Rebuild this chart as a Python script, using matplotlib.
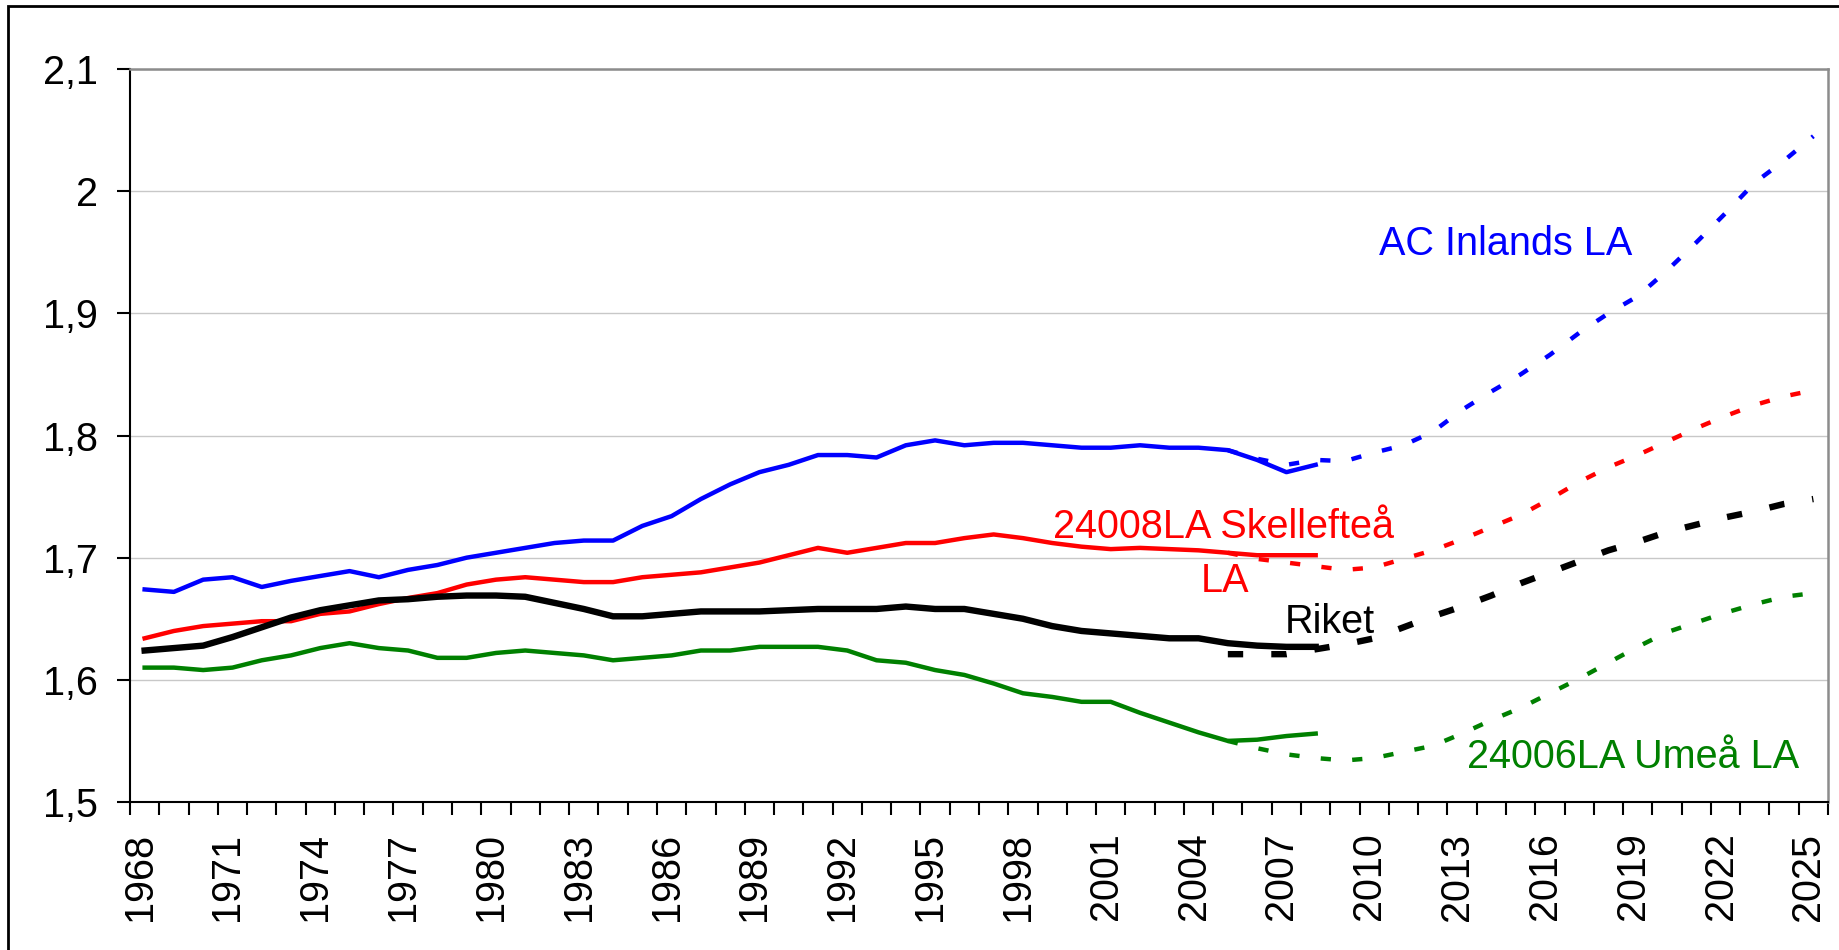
import numpy as np
import matplotlib
matplotlib.use('Agg')
import matplotlib.pyplot as plt
from matplotlib.patches import Rectangle
from matplotlib.ticker import FixedLocator, FuncFormatter
import matplotlib.transforms as mtransforms

plt.rcParams['font.family'] = ['Liberation Sans', 'DejaVu Sans']

# historical values 1968-2008
hist_years = np.arange(1968, 2009)
inlands = [1.674, 1.672, 1.682, 1.684, 1.676, 1.681, 1.685, 1.689, 1.684, 1.690,
           1.694, 1.700, 1.704, 1.708, 1.712, 1.714, 1.714, 1.726, 1.734, 1.748,
           1.760, 1.770, 1.776, 1.784, 1.784, 1.782, 1.792, 1.796, 1.792, 1.794,
           1.794, 1.792, 1.790, 1.790, 1.792, 1.790, 1.790, 1.788, 1.780, 1.770, 1.776]
skelleftea = [1.634, 1.640, 1.644, 1.646, 1.648, 1.648, 1.654, 1.656, 1.662, 1.667,
              1.671, 1.678, 1.682, 1.684, 1.682, 1.680, 1.680, 1.684, 1.686, 1.688,
              1.692, 1.696, 1.702, 1.708, 1.704, 1.708, 1.712, 1.712, 1.716, 1.719,
              1.716, 1.712, 1.709, 1.707, 1.708, 1.707, 1.706, 1.704, 1.702, 1.702, 1.702]
riket = [1.624, 1.626, 1.628, 1.635, 1.643, 1.651, 1.657, 1.661, 1.665, 1.666,
         1.668, 1.669, 1.669, 1.668, 1.663, 1.658, 1.652, 1.652, 1.654, 1.656,
         1.656, 1.656, 1.657, 1.658, 1.658, 1.658, 1.660, 1.658, 1.658, 1.654,
         1.650, 1.644, 1.640, 1.638, 1.636, 1.634, 1.634, 1.630, 1.628, 1.627, 1.627]
umea = [1.610, 1.610, 1.608, 1.610, 1.616, 1.620, 1.626, 1.630, 1.626, 1.624,
        1.618, 1.618, 1.622, 1.624, 1.622, 1.620, 1.616, 1.618, 1.620, 1.624,
        1.624, 1.627, 1.627, 1.627, 1.624, 1.616, 1.614, 1.608, 1.604, 1.597,
        1.589, 1.586, 1.582, 1.582, 1.573, 1.565, 1.557, 1.550, 1.551, 1.554, 1.556]

# projections 2005-2025
proj_years = np.arange(2005, 2026)
inlands_p = [1.788, 1.781, 1.776, 1.780, 1.779, 1.786, 1.792, 1.803, 1.821, 1.836, 1.850,
             1.866, 1.884, 1.900, 1.914, 1.935, 1.958, 1.982, 2.007, 2.025, 2.045]
skelleftea_p = [1.704, 1.699, 1.696, 1.693, 1.690, 1.692, 1.699, 1.706, 1.715, 1.725, 1.735,
                1.748, 1.762, 1.774, 1.784, 1.795, 1.806, 1.816, 1.825, 1.832, 1.837]
riket_p = [1.621, 1.621, 1.621, 1.625, 1.629, 1.634, 1.643, 1.652, 1.660, 1.669, 1.679,
           1.688, 1.697, 1.706, 1.713, 1.721, 1.727, 1.733, 1.738, 1.744, 1.748]
umea_p = [1.550, 1.544, 1.539, 1.536, 1.534, 1.536, 1.541, 1.546, 1.556, 1.567, 1.577,
          1.589, 1.601, 1.614, 1.627, 1.639, 1.647, 1.655, 1.662, 1.668, 1.671]

label_years = list(range(1968, 2026, 3))
y_ticks = [1.5, 1.6, 1.7, 1.8, 1.9, 2.0, 2.1]

BLUE, RED, GREEN = '#0000FF', '#FF0000', '#008000'

fig = plt.figure(figsize=(18.39, 9.5), dpi=100)
ax = fig.add_axes([130 / 1839, 1 - 802 / 950, (1828 - 130) / 1839, (802 - 69) / 950])

# outer chart frame (cut off at right and bottom)
fig.add_artist(Rectangle((8 / 1839, -0.1), 1.5, 1.1 - 6 / 950, transform=fig.transFigure,
                         fill=False, edgecolor='black', linewidth=2))

ax.plot(hist_years, inlands, color=BLUE, lw=3.2, solid_joinstyle='round')
ax.plot(hist_years, skelleftea, color=RED, lw=3.2, solid_joinstyle='round')
ax.plot(hist_years, riket, color='black', lw=4.6, solid_joinstyle='round')
ax.plot(hist_years, umea, color=GREEN, lw=3.2, solid_joinstyle='round')

ax.plot(proj_years, inlands_p, color=BLUE, lw=3.2, linestyle=(0, (2.3, 4.8)))
ax.plot(proj_years, skelleftea_p, color=RED, lw=3.2, linestyle=(0, (2.3, 4.8)))
ax.plot(proj_years, riket_p, color='black', lw=4.6, linestyle=(0, (2.4, 4.4)))
ax.plot(proj_years, umea_p, color=GREEN, lw=3.2, linestyle=(0, (2.3, 4.8)))

ax.set_xlim(1967.5, 2025.5)
ax.set_ylim(1.5, 2.1)

ax.yaxis.set_major_locator(FixedLocator(y_ticks))
ax.yaxis.set_major_formatter(FuncFormatter(lambda v, p: f'{v:g}'.replace('.', ',')))
ax.xaxis.set_major_locator(FixedLocator(label_years))
ax.xaxis.set_minor_locator(FixedLocator(np.arange(1967.5, 2026, 1.0)))
ax.set_xticklabels([str(y) for y in label_years], rotation=90)

ax.tick_params(axis='y', which='major', length=9.4, width=1.5, direction='out',
               pad=14, labelsize=28.5, colors='black')
ax.tick_params(axis='x', which='major', length=0, pad=22, labelsize=28.5)
ax.tick_params(axis='x', which='minor', length=9.4, width=1.5, direction='out')

# shift year labels slightly left, like the original
offset = mtransforms.ScaledTranslation(-5 / 100, 0, fig.dpi_scale_trans)
for lbl in ax.get_xticklabels():
    lbl.set_transform(lbl.get_transform() + offset)

ax.grid(axis='y', color='#C8C8C8', linewidth=1.0)
ax.set_axisbelow(True)
for side in ['left', 'bottom']:
    ax.spines[side].set_color('black')
    ax.spines[side].set_linewidth(1.5)
for side in ['top', 'right']:
    ax.spines[side].set_color('#8C8C8C')
    ax.spines[side].set_linewidth(1.8)

ax.text(2014.5, 1.948, 'AC Inlands LA', color=BLUE, fontsize=28.5, ha='center', va='baseline')
ax.text(2004.84, 1.716, '24008LA Skellefteå', color=RED, fontsize=28.5, ha='center', va='baseline')
ax.text(2004.9, 1.672, 'LA', color=RED, fontsize=28.5, ha='center', va='baseline')
ax.text(2008.5, 1.638, 'Riket', color='black', fontsize=28.5, ha='center', va='baseline')
ax.text(2018.83, 1.5275, '24006LA Umeå LA', color=GREEN, fontsize=28.5, ha='center', va='baseline')

fig.savefig('out.png', dpi=100)
